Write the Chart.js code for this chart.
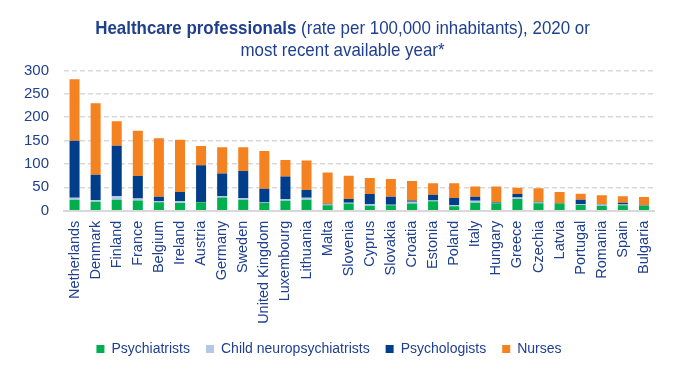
<!DOCTYPE html>
<html>
<head>
<meta charset="utf-8">
<script src="https://cdn.jsdelivr.net/npm/chart.js@4/dist/chart.umd.min.js"></script>
<style>
  html, body { margin: 0; padding: 0; background: #ffffff; }
  #wrap { position: relative; width: 685px; height: 377px; }
  #title {
    position: absolute; left: 0; top: 16.6px; width: 685px; text-align: center;
    font-family: 'Liberation Sans', Arial, sans-serif;
    font-size: 18.6px; line-height: 22px; color: #1f3f8f;
    transform: scaleX(0.91); transform-origin: 343px 0;
  }
  #title b { font-weight: bold; }
  canvas { position: absolute; left: 0; top: 0; }
</style>
</head>
<body>
<div id="wrap">
  <canvas id="c" width="685" height="377"></canvas>
  <div id="title"><b>Healthcare professionals</b> (rate per 100,000 inhabitants), 2020 or<br>most recent available year*</div>
</div>
<script>
const categories = ["Netherlands","Denmark","Finland","France","Belgium","Ireland","Austria","Germany","Sweden","United Kingdom","Luxembourg","Lithuania","Malta","Slovenia","Cyprus","Slovakia","Croatia","Estonia","Poland","Italy","Hungary","Greece","Czechia","Latvia","Portugal","Romania","Spain","Bulgaria"];
const psychiatrists = [23.5,19,23.5,22,18,16.5,18,28,23.5,17,21.5,23.5,11.5,15.5,10.5,11.5,15.5,20,9.5,17,15.7,25,15.7,16,12,10.7,11.5,10.7];
const childNeuropsychiatrists = [4,4,8,4,3,3.5,0.5,3.5,3.5,1,3.5,4,1.5,1.5,3.5,1,3.5,2,2,4.5,1.5,3,2,0.5,2,2.5,2,0.5];
const psychologists = [122,54,107.5,48,9,20,79,48,58,29,48,17,2,8,22,17.5,3,12,15.5,8.5,1.5,7.7,1.5,0,9.5,1.2,3.5,1];
const nurses = [132,153,52.5,97,125,112,41,56.5,51,81,35.6,63,67,50,34,38,41.5,25,31.5,22,33,13.6,29,23.5,13,18.6,14,17];
const yTicks = [0,50,100,150,200,250,300];

const FONT = "'Liberation Sans', Arial, sans-serif";
const TEXT = '#1f3f8f';
Chart.defaults.font.family = FONT;
Chart.defaults.color = TEXT;

const mk = (label, data, color) => ({
  label, data, backgroundColor: color, borderWidth: 0,
  barPercentage: 0.475, categoryPercentage: 1.0, stack: 's'
});

new Chart(document.getElementById('c'), {
  type: 'bar',
  data: {
    labels: categories,
    datasets: [
      mk('Psychiatrists', psychiatrists, '#00b050'),
      mk('Child neuropsychiatrists', childNeuropsychiatrists, '#b4c7e7'),
      mk('Psychologists', psychologists, '#003d8a'),
      mk('Nurses', nurses, '#f58220')
    ]
  },
  options: {
    responsive: false,
    animation: false,
    layout: { padding: { top: 70.5, left: 3.5, right: 30.5, bottom: 11 } },
    plugins: {
      title: { display: false },
      tooltip: { enabled: false },
      legend: {
        position: 'bottom',
        align: 'center',
        labels: {
          boxWidth: 8, boxHeight: 8, padding: 16,
          font: { size: 14 }, color: TEXT
        }
      }
    },
    scales: {
      x: {
        stacked: true,
        grid: { display: false, drawTicks: false },
        border: { display: true, color: '#d9d9d9', width: 2 },
        ticks: { maxRotation: 90, minRotation: 90, autoSkip: false, padding: 10, font: { size: 14.5 }, color: TEXT },
        afterFit: (s) => { s.height = 115.3; }
      },
      y: {
        stacked: true,
        min: 0, max: 300,
        afterBuildTicks: (s) => { s.ticks = yTicks.map(v => ({ value: v })); },
        grid: {
          drawTicks: false,
          lineWidth: 1.5,
          color: (ctx) => ctx.tick && ctx.tick.value === 0 ? 'rgba(0,0,0,0)' : '#d9d9d9'
        },
        border: { display: false, dash: [5, 3] },
        ticks: { padding: 15, font: { size: 15 }, color: TEXT },
        afterFit: (s) => { s.width = 60.5; }
      }
    }
  }
});
</script>
</body>
</html>
